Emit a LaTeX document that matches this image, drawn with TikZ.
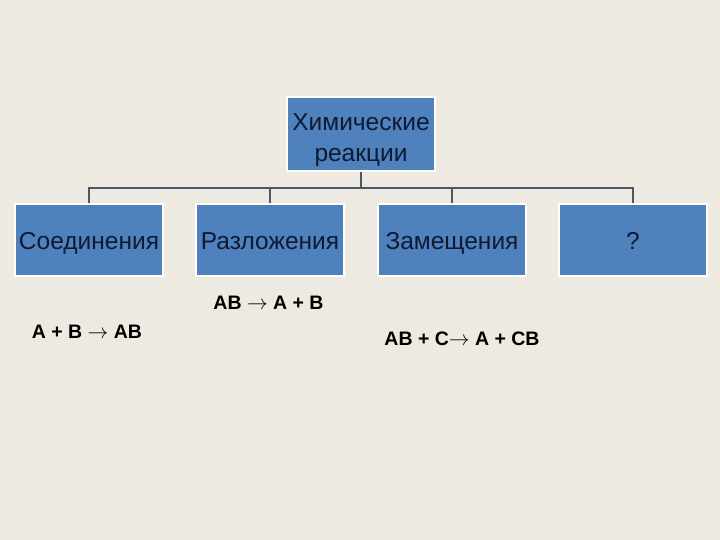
\documentclass[tikz,border=0pt]{standalone}
\usepackage{fontspec}
\setmainfont{Liberation Sans}
\definecolor{bg}{HTML}{EEEAE1}
\definecolor{boxfill}{HTML}{4F81BD}
\definecolor{boxtext}{HTML}{0E1A33}
\definecolor{conn}{HTML}{4A5866}
\newcommand{\myarr}{\ensuremath{\rightarrow}}
\begin{document}
\begin{tikzpicture}[x=1pt,y=-1pt,
  basebox/.style={draw=white,line width=1.8pt,fill=boxfill,minimum width=148pt,minimum height=72pt,inner sep=0pt,text=boxtext,font=\fontsize{24.5}{31}\selectfont,align=center},
  rbox/.style={basebox,text height=21pt,text depth=2pt},
  formula/.style={font=\fontsize{19.5}{23}\selectfont\bfseries,text=black,inner sep=0pt},
  link/.style={draw=conn,line width=2pt}]
\fill[bg] (0,0) rectangle (720,540);
\useasboundingbox (0,0) rectangle (720,540);
\node[basebox,minimum height=74pt] (top) at (361,134) {};
\node[text=boxtext,font=\fontsize{24.5}{31}\selectfont,align=center,inner sep=0pt] (toptext) at (361,140) {Химические\\реакции};
\node[rbox] (b1) at (89,240) {Соединения};
\node[rbox] (b2) at (270,240) {Разложения};
\node[rbox] (b3) at (452,240) {Замещения};
\node[rbox] (b4) at (633,240) {?};
\coordinate (hub) at (361,188);
\draw[link] (top.south) -- (hub);
\draw[link] (b1.north) |- (hub) -| (b4.north);
\draw[link] (b2.north) -- (b2.north |- hub);
\draw[link] (b3.north) -- (b3.north |- hub);
\node[formula] (f2) at (268.5,303) {AB \myarr{} A + B};
\node[formula] (f1) at (87,332) {A + B \myarr{} AB};
\node[formula] (f3) at (462,339) {AB + C\myarr{} A + CB};
\end{tikzpicture}
\end{document}
